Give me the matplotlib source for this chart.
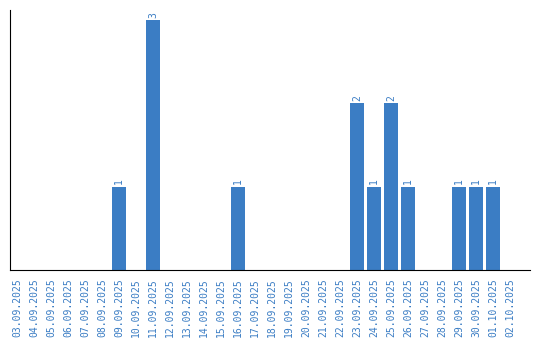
import matplotlib.pyplot as plt

dates = ["03.09.2025", "04.09.2025", "05.09.2025", "06.09.2025", "07.09.2025",
         "08.09.2025", "09.09.2025", "10.09.2025", "11.09.2025", "12.09.2025",
         "13.09.2025", "14.09.2025", "15.09.2025", "16.09.2025", "17.09.2025",
         "18.09.2025", "19.09.2025", "20.09.2025", "21.09.2025", "22.09.2025",
         "23.09.2025", "24.09.2025", "25.09.2025", "26.09.2025", "27.09.2025",
         "28.09.2025", "29.09.2025", "30.09.2025", "01.10.2025", "02.10.2025"]
counts = [0, 0, 0, 0, 0, 0, 1, 0, 3, 0,
          0, 0, 0, 1, 0, 0, 0, 0, 0, 0,
          2, 1, 2, 1, 0, 0, 1, 1, 1, 0]

blue = "#3b7dc4"
plt.rcParams["font.family"] = "DejaVu Sans Mono"

fig = plt.figure(figsize=(5.4, 3.4), dpi=100)
ax = fig.add_axes([10 / 540, 70 / 340, 520 / 540, 260 / 340])

x = list(range(len(dates)))
ax.bar(x, counts, width=0.82, color=blue)

for xi, c in zip(x, counts):
    if c > 0:
        ax.text(xi, c + 0.03, str(c), rotation=90, ha="center", va="bottom",
                fontsize=7, color=blue)

ax.set_xlim(-0.41, 30.18)
ax.set_ylim(0, 3.12)
ax.set_xticks(x)
ax.set_xticklabels(dates, rotation=90, fontsize=7, color=blue)
ax.tick_params(axis="x", length=0, pad=6)
ax.set_yticks([])
ax.spines["top"].set_visible(False)
ax.spines["right"].set_visible(False)

plt.savefig("out.png")
